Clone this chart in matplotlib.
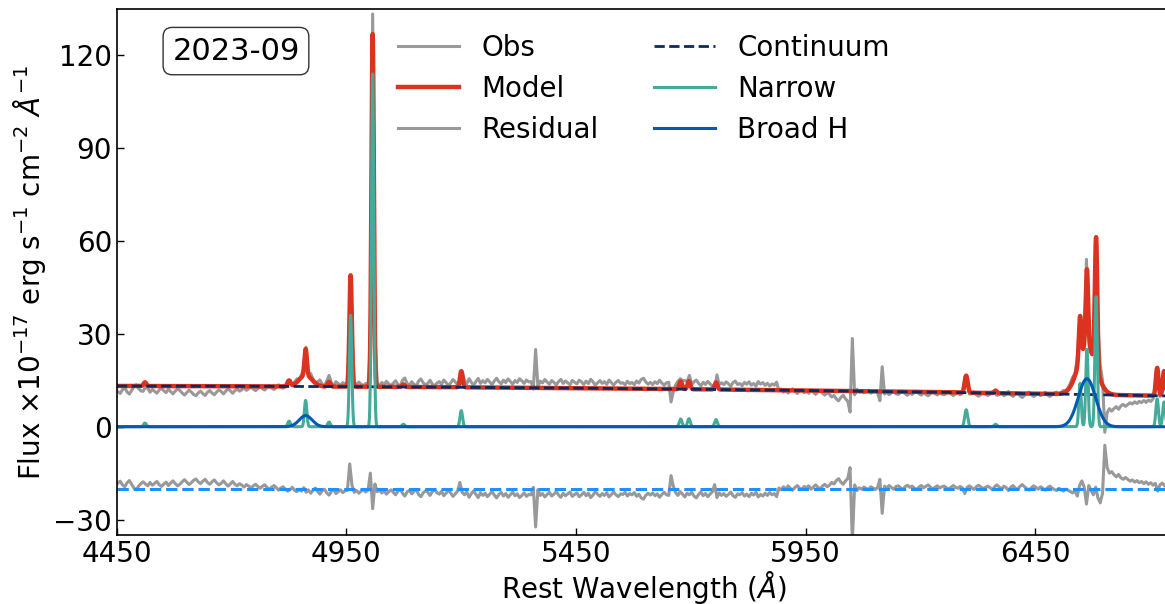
# %%
# Spectral decomposition plot: observed spectrum, fitted model and components
import numpy as np
import matplotlib.pyplot as plt

EPOCH = "2023-09"

# narrow emission lines: rest centre (A), peak flux, sigma (A)
NARROW_WAVE = [4511, 4825, 4861, 4912, 4959, 5007, 5074, 5200, 5678, 5696, 5755,
               6300, 6364, 6548, 6563, 6583, 6716, 6731]
NARROW_AMP = [1.2, 1.8, 8.5, 1.5, 36.0, 114.0, 0.8, 5.2, 2.5, 2.6, 2.3,
              5.5, 0.8, 14.0, 25.0, 42.0, 9.0, 8.0]
NARROW_SIG = [3.0, 3.0, 2.6, 3.0, 2.6, 2.6, 3.0, 2.8, 3.0, 3.0, 3.0,
              3.2, 3.0, 2.6, 2.6, 2.6, 2.8, 2.8]

# broad Balmer components (Hb, Ha)
BROAD_WAVE = [4861, 6563]
BROAD_AMP = [3.6, 15.5]
BROAD_SIG = [14.0, 19.0]

# continuum: quadratic in t = (wave - 5500) / 1000
CONT_A, CONT_B, CONT_C = 12.4, -1.3, -0.55

# residual (model - obs), 5 A steps from 4452 A
RESID = [
    1.8, 2.4, 1.2, 0.6, 1.9, 2.6, 1.4, 0.2, -0.4, 0.8, 1.6, 2.2, 1.5, 0.9, 2.0, 1.1, 1.7, 2.3, 1.3, 0.7,       # 4452
    1.5, 2.1, 1.0, 1.8, 2.5, 1.6, 0.9, 1.4, 2.2, 2.9, 2.1, 1.3, 1.9, 2.7, 3.1, 2.2, 1.6, 2.4, 3.0, 2.0,       # 4552
    1.4, 2.2, 2.8, 1.9, 1.2, 1.7, 2.5, 1.6, 0.8, 1.5, 2.3, 1.4, 0.9, 1.6, 1.1, 0.5, 1.3, 0.8, 0.2, 0.9,       # 4652
    1.4, 0.7, 0.1, 0.8, 1.2, 0.4, -0.3, 0.5, 1.0, 0.3, -0.5, 0.2, 0.6, -0.2, -0.8, -0.3, 0.4, -0.6, -1.0, -0.2,  # 4752
    -0.8, 0.3, -1.2, -0.4, -1.5, -0.6, 0.2, -0.9, -1.8, -0.7, -0.2, -1.4, -2.1, -0.9, -0.3, -1.6, -1.0, -0.4, -1.3, -0.7,  # 4852
    -0.5, 8.0, 1.0, -1.2, -0.6, -1.5, -0.8, -0.3, -1.1, -0.4, 5.0, -6.5, 1.5, -1.0, -0.5, -1.4, -0.7, -1.8, -1.0, -0.4,  # 4952
    -1.2, -2.0, -0.8, -0.2, -1.5, -2.4, -1.1, -0.5, -1.7, -0.9, -0.3, -1.9, -2.6, -1.4, -0.7, -1.2, -2.2, -1.0, -0.4, -1.3,  # 5052
    -1.8, -0.9, -2.3, -1.5, -0.6, -1.4, -2.5, -1.7, -0.8, 2.0, -1.2, -2.0, -1.1, -2.8, -1.6, -0.7, -1.9, -2.9, -1.3, -2.2,  # 5152
    -1.5, -2.6, -1.8, -0.9, -2.1, -3.0, -1.9, -1.2, -2.4, -1.6, -2.8, -2.0, -1.1, -2.3, -1.7, -2.9, -2.2, -1.4, -2.5, -1.9,  # 5252
    -2.0, 0.4, -12.4, -0.3, -2.2, -1.6, -2.7, -1.9, -1.2, -2.4, -1.8, -1.0, -2.1, -2.8, -1.5, -2.3, -1.7, -1.1, -2.5, -1.9,  # 5352
    -1.4, -2.6, -2.0, -1.2, -2.3, -1.5, -2.9, -2.1, -1.0, -1.8, -2.5, -1.6, -2.2, -1.3, -2.7, -1.9, -1.1, -2.0, -2.6, -1.7,  # 5452
    -1.9, -1.2, -2.4, -1.6, -2.0, -1.3, -2.5, -1.8, -3.0, -3.4, -2.2, -1.5, -2.1, -1.4, -2.3, -1.7, -2.8, -1.9, -1.2, -2.0,  # 5552
    -2.2, 4.2, 0.8, -1.3, -2.2, -1.0, -1.8, -2.7, -1.5, -2.0, -1.2, -2.4, -3.0, -1.9, -1.1, -2.3, -1.6, -2.6, -1.8, -1.0,  # 5652
    1.3, -2.9, -1.4, -2.2, -1.6, -2.5, -1.9, -1.1, -2.3, -2.8, -1.7, -2.0, -1.3, -2.4, -1.8, -2.6, -1.5, -2.1, -1.2, -2.7,  # 5752
    -1.9, -2.4, -1.5, -2.2, -1.3, -2.0, -1.6, -2.6, 0.2, -0.4, 0.6, -0.2, 0.9, 0.1, -0.5, 0.4, 1.0, 0.2, -0.3, 0.7,      # 5852
    0.3, 0.9, -0.2, 0.5, 1.2, 0.4, -0.1, 0.8, 1.4, 0.6, 1.1, 2.0, 1.5, 2.6, 3.2, 2.1, 1.4, 2.5, 3.3, 6.8,        # 5952
    -17.0, 1.2, -0.6, 0.3, -0.2, 0.5, 0.1, -0.4, 0.6, 0.2, -0.3, 0.4, 3.0, -8.0, 0.8, 0.2, 1.0, 0.4, -0.2, 0.7,  # 6052
    0.9, 0.3, -0.2, 0.6, 1.1, 0.4, 0.8, 0.2, -0.3, 0.5, 1.0, 0.3, 0.7, 1.2, 0.5, -0.1, 0.4, 0.9, 0.2, 0.6,      # 6152
    0.8, 0.3, -0.2, 0.5, 1.0, 0.4, 0.1, 0.7, 0.2, -1.6, 0.4, 0.9, 0.3, -0.3, 0.6, 1.1, 0.5, 0.0, 0.4, 0.8,      # 6252
    0.3, -0.4, 0.6, 1.2, 0.5, -0.2, 0.8, 0.3, -0.6, 0.4, 1.0, 0.2, -0.3, 0.7, 1.3, 0.6, 0.0, -0.5, 0.3, 0.9,    # 6352
    0.4, -0.2, 0.6, 0.1, -0.5, 0.3, 0.8, 0.2, -0.3, -0.6, 0.1, -0.4, -0.8, -0.2, -0.5, -1.0, -1.4, -0.6, -2.4, 1.0,  # 6452
    2.5, 0.5, -5.0, 1.0, -0.5, -2.0, 0.5, -3.0, -4.6, -1.5, 14.0, 6.8, 5.0, 5.5, 4.5, 3.8, 4.6, 3.5, 3.0, 3.6,   # 6552
    3.0, 2.4, 2.8, 2.1, 2.6, 1.9, 2.3, 1.6, 2.2, 1.4, 1.9, 1.1, 1.7, -0.8, 1.2, 1.8, 1.0,                       # 6652
]
RESID_OFFSET = -20

X_TICKS = [4450, 4950, 5450, 5950, 6450]
Y_TICKS = [-30, 0, 30, 60, 90, 120]

C_OBS = "#999999"
C_MODEL = "#DC3220"
C_CONT = "#0d2a5c"
C_NARROW = "#44AA99"
C_BROAD = "#005AB5"
C_ZERO = "#1E90FF"


# %%
def gauss_sum(w, centres, amps, sigmas):
    out = np.zeros_like(w, dtype=float)
    for c, a, s in zip(centres, amps, sigmas):
        out += a * np.exp(-0.5 * ((w - c) / s) ** 2)
    return out


def continuum(w):
    t = (w - 5500.0) / 1000.0
    return CONT_A + CONT_B * t + CONT_C * t ** 2


wave = np.arange(4450, 6745, 0.5)
cont = continuum(wave)
narrow = gauss_sum(wave, NARROW_WAVE, NARROW_AMP, NARROW_SIG)
broad = gauss_sum(wave, BROAD_WAVE, BROAD_AMP, BROAD_SIG)
model = cont + narrow + broad

wave_obs = np.arange(4452, 6733, 5)
resid = np.array(RESID)
model_obs = (continuum(wave_obs) + gauss_sum(wave_obs, NARROW_WAVE, NARROW_AMP, NARROW_SIG)
             + gauss_sum(wave_obs, BROAD_WAVE, BROAD_AMP, BROAD_SIG))
obs = model_obs - resid

# %%
plt.rcParams["font.family"] = "DejaVu Sans"
fig = plt.figure(figsize=(11.65, 6.04), dpi=100)
ax = fig.add_axes([0.1004, 0.1142, 0.9039, 0.8709])

ax.plot(wave_obs, obs, color=C_OBS, lw=2.2, label="Obs")
ax.plot(wave, model, color=C_MODEL, lw=3.2, label="Model")
ax.plot(wave_obs, resid + RESID_OFFSET, color=C_OBS, lw=2.2, label="Residual")
ax.plot(wave, cont, color=C_CONT, lw=2, ls="--", label="Continuum")
ax.plot(wave, narrow, color=C_NARROW, lw=2.2, label="Narrow")
ax.plot(wave, broad, color=C_BROAD, lw=2.2, label="Broad H")
ax.axhline(RESID_OFFSET, color=C_ZERO, lw=2.2, ls="--")

ax.set_xlim(4450, 6744)
ax.set_ylim(-35, 135)
ax.set_xticks(X_TICKS)
ax.set_yticks(Y_TICKS)
ax.tick_params(direction="in", labelsize=20, length=5, width=1)
for sp in ax.spines.values():
    sp.set_linewidth(1.2)
ax.set_xlabel(r"Rest Wavelength ($\AA$)", fontsize=20, labelpad=1)
ax.set_ylabel(r"Flux $\times$10$^{-17}$ erg s$^{-1}$ cm$^{-2}$ $\AA^{-1}$", fontsize=20)

ax.text(0.113, 0.92, EPOCH, transform=ax.transAxes, fontsize=22, ha="center", va="center",
        bbox=dict(boxstyle="round,pad=0.3", fc="white", ec="#333333", lw=1))

ax.legend(loc="upper left", bbox_to_anchor=(0.243, 1.0), ncol=2, frameon=False,
          fontsize=20, handlelength=2.2, columnspacing=2.0, labelspacing=0.47)

fig.savefig("out.png", dpi=100)
